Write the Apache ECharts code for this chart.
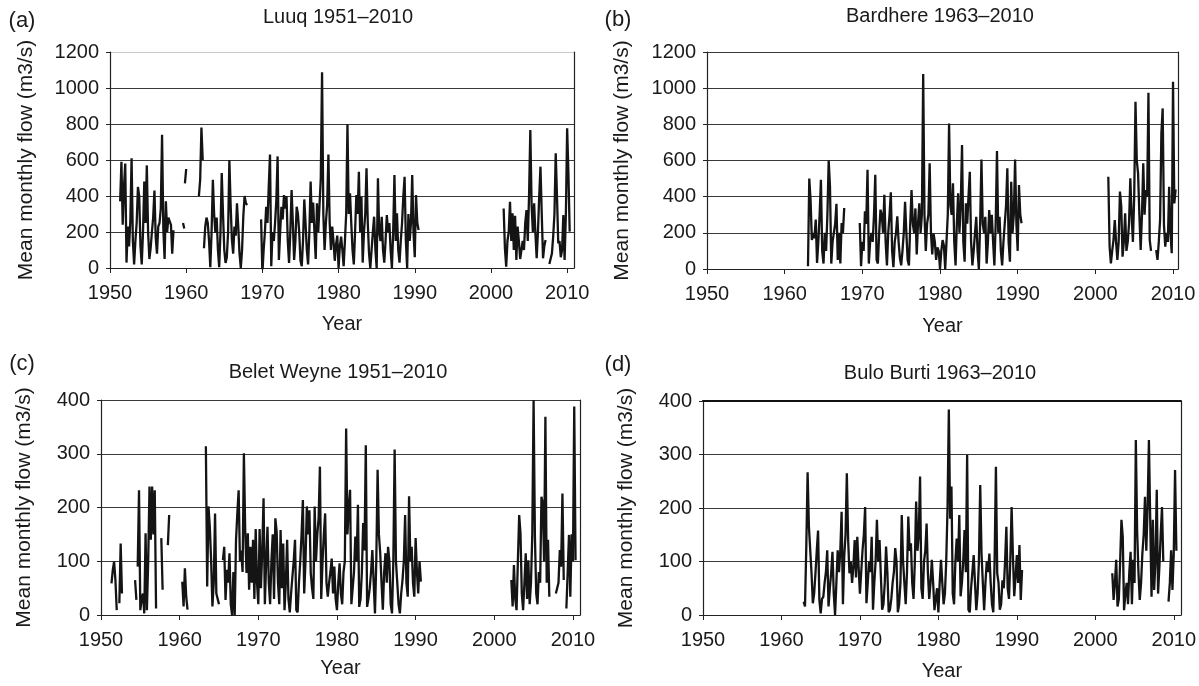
<!DOCTYPE html>
<html>
<head>
<meta charset="utf-8">
<script src="https://cdn.jsdelivr.net/npm/echarts@6/dist/echarts.min.js"></script>
<style>
  html, body { margin: 0; padding: 0; background: #fff; }
  #chart { width: 1199px; height: 686px; }
</style>
</head>
<body>
<div id="chart"></div>
<script>
// 数据：每段 = 起始年份 + 两个月一个值（m3/s）
const STEP = 1 / 6
const yearTicks = [1950, 1960, 1970, 1980, 1990, 2000, 2010]
const flowTicksJuba = [0, 200, 400, 600, 800, 1000, 1200]
const flowTicksShabelle = [0, 100, 200, 300, 400]

// (a) Luuq
const luuqStart = [1951.333, 1959.583, 1959.833, 1961.667, 1962.333, 1969.833, 2001.667, 2007.667]
const luuqFlow = [
  [370, 590, 240, 450,
   580, 30, 230, 120, 260, 610,
   150, 20, 150, 250, 450, 400,
   120, 20, 200, 480, 250, 570,
   200, 50, 110, 200, 280, 430,
   170, 80, 230, 250, 330, 740,
   220, 50, 370, 200, 280, 270,
   240, 80, 210],
  [250, 220],
  [470, 550],
  [400, 490, 780, 600],
  [110, 230, 280, 250,
   150, 5, 200, 490, 300, 195,
   280, 100, 5, 200, 528, 300,
   100, 28, 60, 200, 600, 350,
   157, 80, 230, 180, 360, 230,
   80, 0, 100, 290, 400, 360,
   350],
  [270,
   -30, 100, 200, 340, 250, 450,
   630, 10, 200, 150, 250, 380,
   620, 45, 200, 340, 270, 405,
   330, 400, 150, 28, 200, 433,
   250, 45, 150, 340, 300, 200,
   40, 10, 150, 381, 250, 100,
   20, 200, 480, 250, 363, 200,
   50, 360, 200, 350, 500, 1087,
   300, 100, 250, 350, 631, 250,
   100, 230, 150, 40, 130, 180,
   0, 120, 174, 100, 10, 150,
   300, 798, 300, 415, 250, 100,
   20, 200, 405, 300, 535, 200,
   396, 30, 200, 300, 554, 250,
   80, 0, 100, 200, 285, 100,
   0, 498, 200, 150, 285, 100,
   30, 150, 294, 200, 250, 100,
   0, 200, 517, 150, 304, 100,
   30, 150, 250, 400, 507, 150,
   0, 300, 150, 250, 517, 200,
   60, 405, 250, 211],
  [331, 109,
   7, 150, 200, 368, 150, 304,
   100, 290, 44, 230, 150, 50,
   40, 150, 100, 250, 322, 150,
   400, 767, 350, 200, 359, 193,
   54, 200, 400, 563, 300, 54,
   120, 156],
  [22, 15,
   80, 174, 300, 637, 400, 137,
   150, 60, 100, 294, 44, 300,
   776, 526, 202]
]

// (b) Bardhere
const bardhereStart = [1963.0, 1969.667, 2001.667, 2007.833]
const bardhereFlow = [
  [15, 500, 383, 160, 200, 170,
   273, 33, 150, 300, 494, 100,
   30, 200, 100, 300, 600, 457,
   30, 150, 200, 250, 361, 50,
   200, 30, 254, 200, 337],
  [254, 15,
   150, 100, 319, 250, 549, 30,
   150, 200, 150, 300, 521, 50,
   30, 200, 328, 300, 200, 410,
   150, 20, 200, 300, 424, 100,
   10, 150, 200, 291, 150, 60,
   20, 100, 200, 372, 200, 50,
   20, 250, 437, 250, 200, 335,
   80, 250, 363, 200, 300, 1078,
   300, 100, 250, 300, 584, 200,
   80, 197, 150, 50, 120, 100,
   0, 100, 160, 130, 0, 150,
   300, 805, 350, 300, 474, 150,
   20, 250, 418, 200, 350, 686,
   150, 40, 363, 250, 400, 538,
   150, 20, 100, 200, 289, 100,
   0, 250, 606, 250, 200, 289,
   30, 150, 326, 200, 300, 150,
   20, 250, 652, 200, 289, 100,
   20, 150, 250, 350, 557, 150,
   40, 483, 200, 300, 606, 250,
   100, 464, 300, 253],
  [510, 124,
   31, 100, 160, 271, 150, 50,
   150, 428, 345, 68, 150, 308,
   100, 150, 250, 501, 300, 150,
   400, 925, 600, 529, 300, 105,
   300, 584, 300, 437, 400, 975,
   160, 100],
  [105,
   50, 150, 271, 750, 888, 243,
   124, 200, 150, 455, 200, 87,
   1036, 363, 440]
]

// (c) Belet Weyne
const beletStart = [1951.333, 1952.333, 1954.333, 1954.667, 1957.667, 1958.5, 1960.333, 1963.333, 1965.5, 2002.167, 2007.833, 2009.167]
const beletFlow = [
  [59, 84, 99, 65, 9],
  [22, 133, 40],
  [65, 28],
  [90, 232,
   9, 30, 40, 3, 152, 9,
   100, 239, 140, 239, 150, 232,
   12],
  [143, 47],
  [130, 186],
  [62, 16, 87, 34, 10],
  [314, 53, 202, 164,
   102, 16, 60, 189, 40, 30,
   20],
  [102, 127, 28,
   84, 60, 115, 20, 0, 80,
   0, 140, 189, 232, 100, 120,
   80, 301, 158, 78, 152, 47,
   127, 60, 140, 30, 160, 60,
   20, 160, 50, 120, 217, 20,
   100, 164, 60, 20, 100, 150,
   30, 180, 155, 60, 20, 158,
   50, 133, 9, 60, 140, 30,
   5, 40, 71, 100, 140, 9,
   5, 60, 100, 150, 214, 40,
   100, 202, 150, 195, 78, 50,
   30, 202, 100, 150, 180, 276,
   30, 100, 150, 189, 60, 34,
   60, 80, 105, 40, 90, 30,
   9, 60, 96, 40, 20, 80,
   100, 347, 150, 200, 233, 20,
   20, 80, 146, 100, 205, 15,
   30, 80, 171, 120, 316, 15,
   30, 50, 80, 121, 60, 3,
   100, 270, 150, 115, 60, 10,
   80, 115, 60, 127, 100, 20,
   3, 100, 308, 100, 60, 20,
   3, 40, 65, 100, 186, 60,
   34, 221, 100, 127, 60, 34,
   143, 80, 40, 100, 62],
  [65, 16, 93, 30, 9,
   100, 186, 152, 40, 9, 60,
   115, 30, 102, 20, 60, 150,
   400, 146, 40, 20, 80, 60,
   220, 208, 100, 369, 60, 140,
   34],
  [40,
   40, 60, 121, 90, 226, 65],
  [12, 80, 149, 34, 150,
   100, 388, 102]
]

// (d) Bulo Burti
const buloStart = [1962.833, 2002.167, 2009.333]
const buloFlow = [
  [25,
   16, 128, 267, 165, 162, 78,
   22, 40, 78, 120, 158, 28,
   3, 30, 34, 60, 80, 121,
   16, 50, 78, 118, 40, 0,
   60, 121, 80, 120, 193, 20,
   109, 150, 265, 140, 78, 100,
   60, 90, 140, 70, 146, 90,
   40, 80, 121, 150, 202, 22,
   60, 100, 80, 146, 10, 60,
   100, 178, 100, 140, 140, 10,
   20, 60, 128, 80, 5, 10,
   30, 60, 80, 125, 100, 5,
   20, 60, 187, 100, 60, 20,
   80, 184, 120, 134, 60, 30,
   100, 212, 120, 150, 259, 50,
   30, 100, 120, 171, 78, 30,
   60, 103, 60, 9, 30, 50,
   5, 60, 103, 60, 20, 40,
   100, 200, 384, 180, 240, 40,
   20, 100, 143, 100, 187, 35,
   60, 100, 159, 80, 299, 10,
   5, 50, 80, 112, 60, 9,
   40, 100, 243, 115, 60, 9,
   60, 100, 80, 115, 60, 20,
   5, 100, 277, 78, 60, 10,
   20, 65, 50, 100, 165, 50,
   30, 100, 202, 112, 35, 70,
   112, 60, 131, 28, 84],
  [78, 28, 60, 103, 16,
   30, 100, 178, 146, 9, 40,
   60, 20, 80, 118, 20, 103,
   60, 327, 156, 80, 28, 60,
   115, 150, 221, 120, 200, 327,
   178, 34, 178, 47, 100, 234,
   40, 90, 150, 202, 100],
  [25, 60, 121, 47,
   115, 271, 120]
]

// 段与段之间插入空值断开折线
const toPoints = (starts, flows) => {
  const pts = []
  starts.forEach((s, k) => {
    if (k > 0) pts.push([s - STEP / 2, null])
    flows[k].forEach((v, i) => pts.push([+(s + i * STEP).toFixed(3), v]))
  })
  return pts
}

const FONT = '"Liberation Sans", Arial, sans-serif'
const INK = '#1a1a1a'
const GRID_LINE = '#3a3a3a'
const plain = (v) => String(v)

const panels = [
  { tag: '(a)', title: 'Luuq 1951–2010', left: 110, top: 52, width: 464, height: 216, xMax: 2010.9,
    yMax: 1200, yTicks: flowTicksJuba, yGap: 73, xGap: 46, data: toPoints(luuqStart, luuqFlow),
    tagPos: [22, 21], titlePos: [338, 17], lightTop: true },
  { tag: '(b)', title: 'Bardhere 1963–2010', left: 707, top: 52, width: 471, height: 217, xMax: 2010.64,
    yMax: 1200, yTicks: flowTicksJuba, yGap: 74, xGap: 47, data: toPoints(bardhereStart, bardhereFlow),
    tagPos: [618, 20], titlePos: [940, 16] },
  { tag: '(c)', title: 'Belet Weyne 1951–2010', left: 101, top: 400, width: 479, height: 215, xMax: 2010.9,
    yMax: 400, yTicks: flowTicksShabelle, yGap: 66, xGap: 43, data: toPoints(beletStart, beletFlow),
    tagPos: [22, 364], titlePos: [338, 372] },
  { tag: '(d)', title: 'Bulo Burti 1963–2010', left: 703, top: 401, width: 479, height: 214, xMax: 2010.9,
    yMax: 400, yTicks: flowTicksShabelle, yGap: 66, xGap: 46, data: toPoints(buloStart, buloFlow),
    tagPos: [618, 365], titlePos: [940, 373], thickTop: true }
]

const grid = []
const xAxis = []
const yAxis = []
const series = []
const graphic = []

panels.forEach((p, i) => {
  grid.push({ left: p.left, top: p.top, width: p.width, height: p.height, containLabel: false })
  xAxis.push({
    type: 'value', gridIndex: i, min: 1950, max: p.xMax, interval: 10,
    name: 'Year', nameLocation: 'middle', nameGap: p.xGap,
    nameTextStyle: { color: INK, fontSize: 20, fontFamily: FONT },
    axisLine: { show: true, onZero: false, lineStyle: { color: '#222', width: 1.2 } },
    axisTick: { show: true, inside: false, length: 5, customValues: yearTicks, lineStyle: { color: '#222' } },
    axisLabel: { customValues: yearTicks, formatter: plain, color: INK, fontSize: 20, fontFamily: FONT, margin: 15 },
    splitLine: { show: false }
  })
  const lineColors = p.yTicks.map((t, k) => (p.lightTop && k === p.yTicks.length - 1 ? '#c8c8c8' : GRID_LINE))
  yAxis.push({
    type: 'value', gridIndex: i, min: 0, max: p.yMax, interval: p.yTicks[1] - p.yTicks[0],
    name: 'Mean monthly flow (m3/s)', nameLocation: 'middle', nameGap: p.yGap, nameRotate: 90,
    nameTextStyle: { color: INK, fontSize: 21, fontFamily: FONT },
    axisLine: { show: true, lineStyle: { color: '#222', width: 1.2 } },
    axisTick: { show: true, inside: false, length: 4, lineStyle: { color: '#222' } },
    axisLabel: { formatter: plain, color: INK, fontSize: 20, fontFamily: FONT, margin: 11 },
    splitLine: { show: true, lineStyle: { color: lineColors, width: 1 } }
  })
  // 右侧边框
  yAxis.push({
    type: 'value', gridIndex: i, position: 'right', min: 0, max: p.yMax,
    axisLine: { show: true, lineStyle: { color: '#222', width: 1.2 } },
    axisTick: { show: false }, axisLabel: { show: false }, splitLine: { show: false }
  })
  series.push({
    type: 'line', xAxisIndex: i, yAxisIndex: i * 2, data: p.data,
    showSymbol: false, connectNulls: false, clip: true, silent: true,
    lineStyle: { color: '#141414', width: 2.3, join: 'bevel' }
  })
  graphic.push({
    type: 'text', x: p.tagPos[0], y: p.tagPos[1],
    style: { text: p.tag, fill: INK, fontSize: 22, fontFamily: FONT, align: 'center', verticalAlign: 'middle' }
  })
  graphic.push({
    type: 'text', x: p.titlePos[0], y: p.titlePos[1],
    style: { text: p.title, fill: INK, fontSize: 20, fontFamily: FONT, align: 'center', verticalAlign: 'middle' }
  })
})

// (d) 顶部粗线
xAxis.push({
  type: 'value', gridIndex: 3, position: 'top', min: 1950, max: 2010.9,
  axisLine: { show: true, onZero: false, lineStyle: { color: '#111', width: 2.2 } },
  axisTick: { show: false }, axisLabel: { show: false }, splitLine: { show: false }
})

const chart = echarts.init(document.getElementById('chart'), null, { renderer: 'canvas' })
chart.setOption({
  animation: false,
  backgroundColor: '#ffffff',
  grid,
  xAxis,
  yAxis,
  series,
  graphic
})
</script>
</body>
</html>
